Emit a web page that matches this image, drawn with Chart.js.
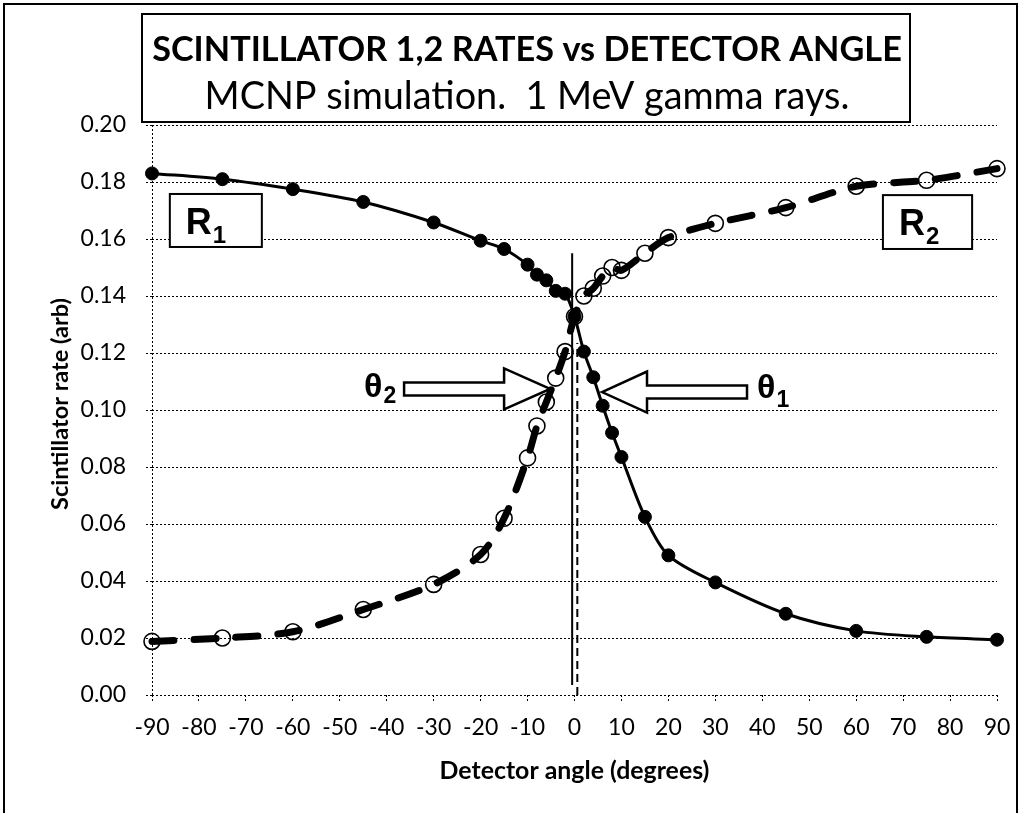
<!DOCTYPE html>
<html><head><meta charset="utf-8">
<script src="https://cdn.jsdelivr.net/npm/chart.js@4.4.1/dist/chart.umd.min.js"></script>
<style>html,body{margin:0;padding:0;background:#fff}#wrap{width:1022px;height:813px;position:relative}</style>
</head><body><div id="wrap"><canvas id="c"></canvas></div>
<script>
// ---- data ----
const angles = [-90,-75,-60,-45,-30,-20,-15,-10,-8,-6,-4,-2,0,2,4,6,8,10,15,20,30,45,60,75,90];
const r1 = [0.183,0.181,0.1775,0.173,0.1658,0.1594,0.1565,0.151,0.1475,0.1455,0.1418,0.1408,0.1328,0.1205,0.1115,0.1015,0.092,0.0835,0.0625,0.049,0.0395,0.0285,0.0225,0.0204,0.0194];
const r2 = [0.0188,0.0200,0.0222,0.0300,0.0388,0.0493,0.0620,0.0832,0.0944,0.1028,0.1112,0.1205,0.1328,0.1400,0.1427,0.1470,0.1500,0.1490,0.1550,0.1605,0.1655,0.1710,0.1785,0.1806,0.1847];
const solidLineX = [-0.5,-0.5], solidLineY = [0.0035,0.155];
const dashLineX = [0.6,0.6], dashLineY = [0.0,0.1235];
const xMin = -90, xMax = 90, xStep = 10;
const yMin = 0, yMax = 0.2, yStep = 0.02;
const titleText = "SCINTILLATOR 1,2 RATES vs DETECTOR ANGLE";
const subtitleText = "MCNP simulation.  1 MeV gamma rays.";
const xTitle = "Detector angle (degrees)";
const yTitle = "Scintillator rate (arb)";
// annotation anchors in data units
const theta2Tip = {x:-5.2, y:0.1074};
const theta1Tip = {x:5.86, y:0.1063};
const r1Box = {x1:-86.2, x2:-66.6, y1:0.1758, y2:0.1572};
const r2Box = {x1:65.7, x2:84.7, y1:0.1754, y2:0.1565};

const FONT = 'Lato, "Open Sans", sans-serif';
const AFONT = '"Liberation Sans", Arial, sans-serif';

function fitSize(ctx, text, weight, family, width){
  ctx.font = weight + ' 100px ' + family;
  return 100 * width / ctx.measureText(text).width;
}
function subText(ctx, main, sub, left, baseMain, baseSub, sizeMain, sizeSub){
  ctx.textAlign = 'left'; ctx.textBaseline = 'alphabetic';
  ctx.font = 'bold ' + sizeMain + 'px ' + AFONT;
  ctx.fillText(main, left, baseMain);
  const w = ctx.measureText(main).width;
  ctx.font = 'bold ' + sizeSub + 'px ' + AFONT;
  ctx.fillText(sub, left + w + 1, baseSub);
}
function arrow(ctx, tx, ty, dir, headLen, headHalf, shaftLen, shaftHalf){
  const bx = tx - dir*headLen, sx = bx - dir*shaftLen;
  ctx.beginPath();
  ctx.moveTo(tx, ty);
  ctx.lineTo(bx, ty - headHalf);
  ctx.lineTo(bx, ty - shaftHalf);
  ctx.lineTo(sx, ty - shaftHalf);
  ctx.lineTo(sx, ty + shaftHalf);
  ctx.lineTo(bx, ty + shaftHalf);
  ctx.lineTo(bx, ty + headHalf);
  ctx.closePath();
  ctx.fillStyle = '#fff'; ctx.fill();
  ctx.lineWidth = 2.5; ctx.strokeStyle = '#000'; ctx.stroke();
}

const deco = {
  id:'deco',
  afterDraw(chart){
    const {ctx, scales:{x, y}} = chart;
    const X = v => x.getPixelForValue(v), Y = v => y.getPixelForValue(v);
    ctx.save();
    ctx.strokeStyle = '#000'; ctx.lineWidth = 2;
    ctx.strokeRect(4, 4, 1013, 900);
    // title box
    ctx.fillStyle = '#fff'; ctx.fillRect(142, 14, 768, 108);
    ctx.strokeRect(142, 14, 768, 108);
    ctx.fillStyle = '#000'; ctx.textAlign = 'center'; ctx.textBaseline = 'middle';
    let s = fitSize(ctx, titleText, 'bold', FONT, 750);
    ctx.font = 'bold ' + s + 'px ' + FONT; ctx.fillText(titleText, 527, 50);
    s = fitSize(ctx, subtitleText, 'normal', FONT, 645);
    ctx.font = 'normal ' + s + 'px ' + FONT; ctx.fillText(subtitleText, 527, 97);
    // axis titles
    s = fitSize(ctx, xTitle, 'bold', FONT, 270);
    ctx.font = 'bold ' + s + 'px ' + FONT; ctx.fillText(xTitle, (X(xMin)+X(xMax))/2, 771);
    s = fitSize(ctx, yTitle, 'bold', FONT, 212);
    ctx.save(); ctx.translate(60, (Y(yMin)+Y(yMax))/2 - 6); ctx.rotate(-Math.PI/2);
    ctx.font = 'bold ' + s + 'px ' + FONT; ctx.fillText(yTitle, 0, 0); ctx.restore();
    // R boxes
    [[r1Box,'1'],[r2Box,'2']].forEach(([b, n]) => {
      const x1 = X(b.x1), x2 = X(b.x2), y1 = Y(b.y1), y2 = Y(b.y2);
      ctx.fillStyle = '#fff'; ctx.fillRect(x1, y1, x2-x1, y2-y1);
      ctx.lineWidth = 2; ctx.strokeStyle = '#000'; ctx.strokeRect(x1, y1, x2-x1, y2-y1);
      ctx.fillStyle = '#000';
      subText(ctx, 'R', n, x1 + 16, y1 + 40, y1 + 49, 36, 24);
    });
    // arrows
    const t2x = X(theta2Tip.x), t2y = Y(theta2Tip.y);
    arrow(ctx, t2x, t2y, 1, 46, 20.5, 100, 6.5);
    const t1x = X(theta1Tip.x), t1y = Y(theta1Tip.y);
    arrow(ctx, t1x, t1y, -1, 45, 20.5, 100, 6.5);
    ctx.fillStyle = '#000';
    subText(ctx, '\u03b8', '2', t2x - 186, t2y + 8, t2y + 14, 34, 23);
    subText(ctx, '\u03b8', '1', t1x + 155, t1y + 6, t1y + 15, 34, 23);
    ctx.restore();
  }
};

const pts = (xs, ys) => xs.map((v, i) => ({x: v, y: ys[i]}));

new Chart(document.getElementById('c'), {
  type: 'scatter',
  data: { datasets: [
    { label:'R1', data: pts(angles, r1), showLine:true, borderColor:'#000', borderWidth:3, tension:0.3,
      pointRadius:6.5, pointBackgroundColor:'#000', pointBorderColor:'#000', pointBorderWidth:1, order:1, clip:false },
    { label:'R2', data: pts(angles, r2), showLine:true, borderColor:'#000', borderWidth:7, borderDash:[22,20],
      borderCapStyle:'round', tension:0.3, pointRadius:8, pointBackgroundColor:'rgba(255,255,255,0)',
      pointBorderColor:'#000', pointBorderWidth:1.6, order:2, clip:false },
    { label:'solid', data: pts(solidLineX, solidLineY), showLine:true, borderColor:'#000', borderWidth:2, pointRadius:0, order:3 },
    { label:'dash', data: pts(dashLineX, dashLineY), showLine:true, borderColor:'#000', borderWidth:2, borderDash:[8,5], pointRadius:0, order:3 }
  ]},
  options: {
    responsive:true, maintainAspectRatio:false, animation:false, devicePixelRatio:1,
    layout:{ padding:{ left:0, right:25, top:125, bottom:0 } },
    plugins:{ legend:{display:false}, tooltip:{enabled:false} },
    scales:{
      x:{ type:'linear', min:xMin, max:xMax, afterFit(s){ s.height = 118; },
        ticks:{ stepSize:xStep, color:'#000', font:{family:FONT, size:23}, padding:11, maxRotation:0, autoSkip:false },
        grid:{ color: c => (c.tick && c.tick.value === xMin) ? '#000' : 'rgba(0,0,0,0)', tickColor:'#000', tickLength:8,
               tickBorderDash:[2,2], lineWidth:1 },
        border:{ display:false, dash:[2,2] } },
      y:{ min:yMin, max:yMax, afterFit(s){ s.width = 152; },
        ticks:{ stepSize:yStep, color:'#000', font:{family:FONT, size:23}, padding:20, callback: v => Number(v).toFixed(2) },
        grid:{ color:'#000', tickColor:'#000', tickLength:6, lineWidth:1, tickBorderDash:[2,2] },
        border:{ display:false, dash:[2,2] } }
    }
  },
  plugins:[deco]
});
</script></body></html>
